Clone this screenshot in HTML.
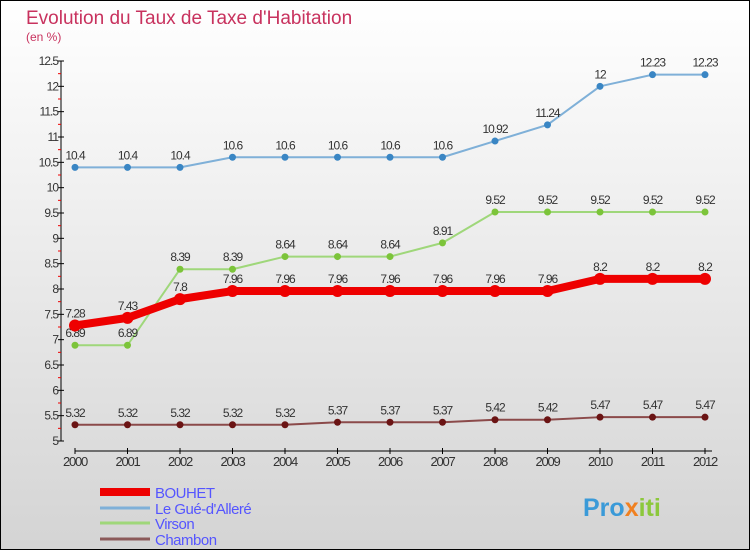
<!DOCTYPE html>
<html><head><meta charset="utf-8"><style>
body{margin:0}
#c{width:750px;height:550px;position:relative;box-sizing:border-box;border:1px solid #000;background:linear-gradient(#fff,#d4d4d4);font-family:"Liberation Sans",sans-serif;overflow:hidden}
</style></head><body>
<div id="c">
<svg id="s" width="750" height="550" style="position:absolute;left:-1px;top:-1px"></svg>
</div>
<script>
const years=[2000,2001,2002,2003,2004,2005,2006,2007,2008,2009,2010,2011,2012];
const bouhet=[7.28,7.43,7.8,7.96,7.96,7.96,7.96,7.96,7.96,7.96,8.2,8.2,8.2];
const gue=[10.4,10.4,10.4,10.6,10.6,10.6,10.6,10.6,10.92,11.24,12,12.23,12.23];
const virson=[6.89,6.89,8.39,8.39,8.64,8.64,8.64,8.91,9.52,9.52,9.52,9.52,9.52];
const chambon=[5.32,5.32,5.32,5.32,5.32,5.37,5.37,5.37,5.42,5.42,5.47,5.47,5.47];
const yTicks=[5,5.5,6,6.5,7,7.5,8,8.5,9,9.5,10,10.5,11,11.5,12,12.5];
const NS="http://www.w3.org/2000/svg",s=document.getElementById('s');
const X=i=>75+(705-75)*i/(years.length-1);
const Y=v=>441-(v-5)*(380/7.5);
function el(t,a,txt){const e=document.createElementNS(NS,t);for(const k in a)e.setAttribute(k,a[k]);if(txt!==undefined)e.textContent=txt;s.appendChild(e);return e;}
let e;
e=el('text',{x:26,y:24,fill:'#c8325e','font-size':19},'Evolution du Taux de Taxe d\'Habitation');

e=el('text',{x:26,y:41,fill:'#c8325e','font-size':12},'(en %)');

e=el('line',{x1:61,y1:61,x2:61,y2:441,stroke:'#000'});

yTicks.forEach((v,i)=>{
 el('line',{x1:58,x2:64,y1:Y(v),y2:Y(v),stroke:'#000'});
 if(i<yTicks.length-1)el('line',{x1:58,x2:61,y1:Y(v+0.25),y2:Y(v+0.25),stroke:'#e00'});
 e=el('text',{x:58,y:Y(v)+4,'text-anchor':'end','font-size':12,fill:'#333','letter-spacing':'-1'},String(v));
 
});
e=el('line',{x1:75,y1:451,x2:712,y2:451,stroke:'#000'});

years.forEach((y,i)=>{
 el('line',{x1:X(i),x2:X(i),y1:448,y2:454,stroke:'#000'});
 e=el('text',{x:X(i),y:466,'text-anchor':'middle','font-size':13,fill:'#333','letter-spacing':'-1.2'},String(y));
 
});
function series(d,col,w,r,dot,name){
 const g=document.createElementNS(NS,'g');s.appendChild(g);
 
 const p=document.createElementNS(NS,'polyline');
 p.setAttribute('points',d.map((v,i)=>X(i)+','+Y(v)).join(' '));
 p.setAttribute('fill','none');p.setAttribute('stroke',col);p.setAttribute('stroke-width',w);p.setAttribute('stroke-linejoin','round');
 g.appendChild(p);
 d.forEach((v,i)=>{
  const c=document.createElementNS(NS,'circle');c.setAttribute('cx',X(i));c.setAttribute('cy',Y(v));c.setAttribute('r',r);c.setAttribute('fill',dot);
  g.appendChild(c);
  const t=document.createElementNS(NS,'text');t.setAttribute('x',X(i));t.setAttribute('y',Y(v)-8);t.setAttribute('text-anchor','middle');t.setAttribute('font-size',12);t.setAttribute('fill','#333');t.setAttribute('letter-spacing','-1');t.textContent=String(v);
  g.appendChild(t);
 });
}
series(chambon,'#8b4a4a',2,3.5,'#6b1414','chambon');
series(virson,'#9fd77a',2,3.5,'#7cc43a','virson');
series(gue,'#7fb0d8',2,3.5,'#3a86c4','le-gue-d-allere');
series(bouhet,'#ee0000',8,6,'#ee0000','bouhet');
const legend=[['BOUHET','#ee0000',8],['Le Gué-d\'Alleré','#7fb0d8',3],['Virson','#9fd77a',3],['Chambon','#8b5a5a',3]];
const ly=[492,508,523,539];
legend.forEach((l,i)=>{
 e=el('line',{x1:100,x2:150,y1:ly[i],y2:ly[i],stroke:l[1],'stroke-width':l[2]});
 
 e=el('text',{x:155,y:ly[i]+6,'font-size':15,fill:'#5555ff','letter-spacing':'-0.5'},l[0]);
 
});
e=el('text',{x:583,y:516,'font-size':25,'font-weight':'bold'});

e.innerHTML='<tspan fill="#3a9ad8">Pro</tspan><tspan fill="#f08020">x</tspan><tspan fill="#8cc83c">iti</tspan>';
</script>
</body></html>
